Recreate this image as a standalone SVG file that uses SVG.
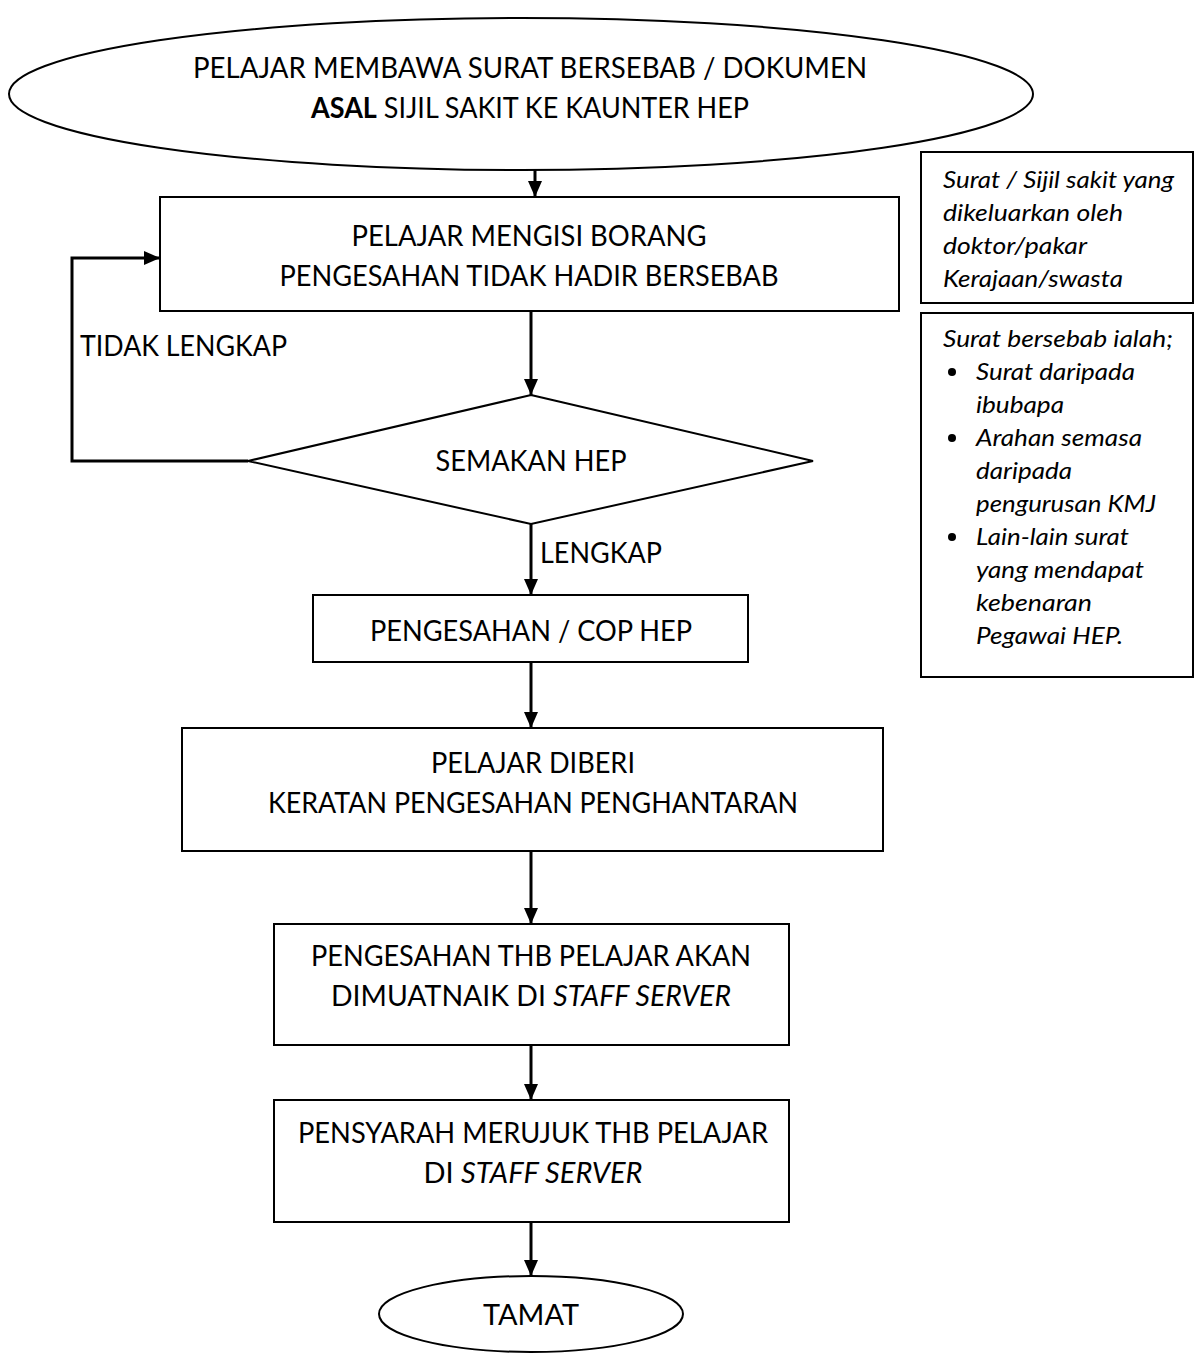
<svg xmlns="http://www.w3.org/2000/svg" width="1195" height="1363" viewBox="0 0 1195 1363">
  <style>
    .shape { fill: #ffffff; stroke: #000000; stroke-width: 2; }
    .link { fill: none; stroke: #000000; stroke-width: 3; }
    .lbl { font-family: Lato, "Liberation Sans", sans-serif; font-size: 28.7px; fill: #000000; }
    .mid { text-anchor: middle; }
    .note { font-family: Lato, "Liberation Sans", sans-serif; font-size: 24px; font-style: italic; fill: #000000; }
  </style>
  <defs>
    <marker id="arrow" markerUnits="userSpaceOnUse" markerWidth="16" markerHeight="14" refX="16" refY="7" orient="auto">
      <path d="M0,0 L16,7 L0,14 Z" fill="#000000"/>
    </marker>
  </defs>
  <rect width="1195" height="1363" fill="#ffffff"/>

  <!-- flow connectors -->
  <g id="connectors">
    <line class="link" x1="535" y1="170" x2="535" y2="197" marker-end="url(#arrow)"/>
    <line class="link" x1="531" y1="311" x2="531" y2="395" marker-end="url(#arrow)"/>
    <polyline class="link" points="248,461 72,461 72,258 160,258" marker-end="url(#arrow)"/>
    <line class="link" x1="531" y1="524" x2="531" y2="595" marker-end="url(#arrow)"/>
    <line class="link" x1="531" y1="662" x2="531" y2="728" marker-end="url(#arrow)"/>
    <line class="link" x1="531" y1="851" x2="531" y2="924" marker-end="url(#arrow)"/>
    <line class="link" x1="531" y1="1045" x2="531" y2="1100" marker-end="url(#arrow)"/>
    <line class="link" x1="531" y1="1222" x2="531" y2="1276" marker-end="url(#arrow)"/>
    <text class="lbl" x="80" y="356" textLength="207" lengthAdjust="spacingAndGlyphs">TIDAK LENGKAP</text>
    <text class="lbl" x="540" y="563" textLength="122" lengthAdjust="spacingAndGlyphs">LENGKAP</text>
  </g>

  <!-- start -->
  <g id="start">
    <ellipse class="shape" cx="521" cy="94" rx="512" ry="76"/>
    <text class="lbl mid" x="530" y="78" textLength="674" lengthAdjust="spacingAndGlyphs">PELAJAR MEMBAWA SURAT BERSEBAB / DOKUMEN</text>
    <text class="lbl mid" x="530" y="118" textLength="438" lengthAdjust="spacingAndGlyphs"><tspan font-weight="bold">ASAL</tspan> SIJIL SAKIT KE KAUNTER HEP</text>
  </g>

  <!-- fill in form -->
  <g id="isi-borang">
    <rect class="shape" x="160" y="197" width="739" height="114"/>
    <text class="lbl mid" x="529" y="246" textLength="355" lengthAdjust="spacingAndGlyphs">PELAJAR MENGISI BORANG</text>
    <text class="lbl mid" x="529" y="286" textLength="499" lengthAdjust="spacingAndGlyphs">PENGESAHAN TIDAK HADIR BERSEBAB</text>
  </g>

  <!-- check -->
  <g id="semakan">
    <polygon class="shape" points="531,395 813,461 531,524 248,461"/>
    <text class="lbl mid" x="531" y="471" textLength="191" lengthAdjust="spacingAndGlyphs">SEMAKAN HEP</text>
  </g>

  <!-- stamp -->
  <g id="cop">
    <rect class="shape" x="313" y="595" width="435" height="67"/>
    <text class="lbl mid" x="531" y="641" textLength="322" lengthAdjust="spacingAndGlyphs">PENGESAHAN / COP HEP</text>
  </g>

  <!-- receipt -->
  <g id="keratan">
    <rect class="shape" x="182" y="728" width="701" height="123"/>
    <text class="lbl mid" x="533" y="773" textLength="204" lengthAdjust="spacingAndGlyphs">PELAJAR DIBERI</text>
    <text class="lbl mid" x="533" y="813" textLength="530" lengthAdjust="spacingAndGlyphs">KERATAN PENGESAHAN PENGHANTARAN</text>
  </g>

  <!-- upload -->
  <g id="muat-naik">
    <rect class="shape" x="274" y="924" width="515" height="121"/>
    <text class="lbl mid" x="531" y="966" textLength="440" lengthAdjust="spacingAndGlyphs">PENGESAHAN THB PELAJAR AKAN</text>
    <text class="lbl mid" x="531" y="1006" textLength="400" lengthAdjust="spacingAndGlyphs">DIMUATNAIK DI <tspan font-style="italic">STAFF SERVER</tspan></text>
  </g>

  <!-- lecturer reference -->
  <g id="rujuk">
    <rect class="shape" x="274" y="1100" width="515" height="122"/>
    <text class="lbl mid" x="533" y="1143" textLength="470" lengthAdjust="spacingAndGlyphs">PENSYARAH MERUJUK THB PELAJAR</text>
    <text class="lbl mid" x="533" y="1183" textLength="219" lengthAdjust="spacingAndGlyphs">DI <tspan font-style="italic">STAFF SERVER</tspan></text>
  </g>

  <!-- end -->
  <g id="tamat">
    <ellipse class="shape" cx="531" cy="1314" rx="152" ry="38"/>
    <text class="lbl mid" x="531" y="1325" textLength="96" lengthAdjust="spacingAndGlyphs">TAMAT</text>
  </g>

  <!-- side notes -->
  <g id="nota-sijil">
    <rect class="shape" x="921" y="152" width="272" height="151"/>
    <text class="note" x="943" y="188" textLength="231" lengthAdjust="spacingAndGlyphs">Surat / Sijil sakit yang</text>
    <text class="note" x="943" y="221" textLength="180" lengthAdjust="spacingAndGlyphs">dikeluarkan oleh</text>
    <text class="note" x="943" y="254" textLength="144" lengthAdjust="spacingAndGlyphs">doktor/pakar</text>
    <text class="note" x="943" y="287" textLength="180" lengthAdjust="spacingAndGlyphs">Kerajaan/swasta</text>
  </g>

  <g id="nota-surat">
    <rect class="shape" x="921" y="313" width="272" height="364"/>
    <text class="note" x="943" y="347" textLength="230" lengthAdjust="spacingAndGlyphs">Surat bersebab ialah;</text>
    <circle cx="952" cy="372" r="4"/>
    <text class="note" x="976" y="380" textLength="159" lengthAdjust="spacingAndGlyphs">Surat daripada</text>
    <text class="note" x="976" y="413" textLength="88" lengthAdjust="spacingAndGlyphs">ibubapa</text>
    <circle cx="952" cy="438" r="4"/>
    <text class="note" x="976" y="446" textLength="166" lengthAdjust="spacingAndGlyphs">Arahan semasa</text>
    <text class="note" x="976" y="479" textLength="96" lengthAdjust="spacingAndGlyphs">daripada</text>
    <text class="note" x="976" y="512" textLength="180" lengthAdjust="spacingAndGlyphs">pengurusan KMJ</text>
    <circle cx="952" cy="537" r="4"/>
    <text class="note" x="976" y="545" textLength="153" lengthAdjust="spacingAndGlyphs">Lain-lain surat</text>
    <text class="note" x="976" y="578" textLength="168" lengthAdjust="spacingAndGlyphs">yang mendapat</text>
    <text class="note" x="976" y="611" textLength="116" lengthAdjust="spacingAndGlyphs">kebenaran</text>
    <text class="note" x="976" y="644" textLength="147" lengthAdjust="spacingAndGlyphs">Pegawai HEP.</text>
  </g>
</svg>
